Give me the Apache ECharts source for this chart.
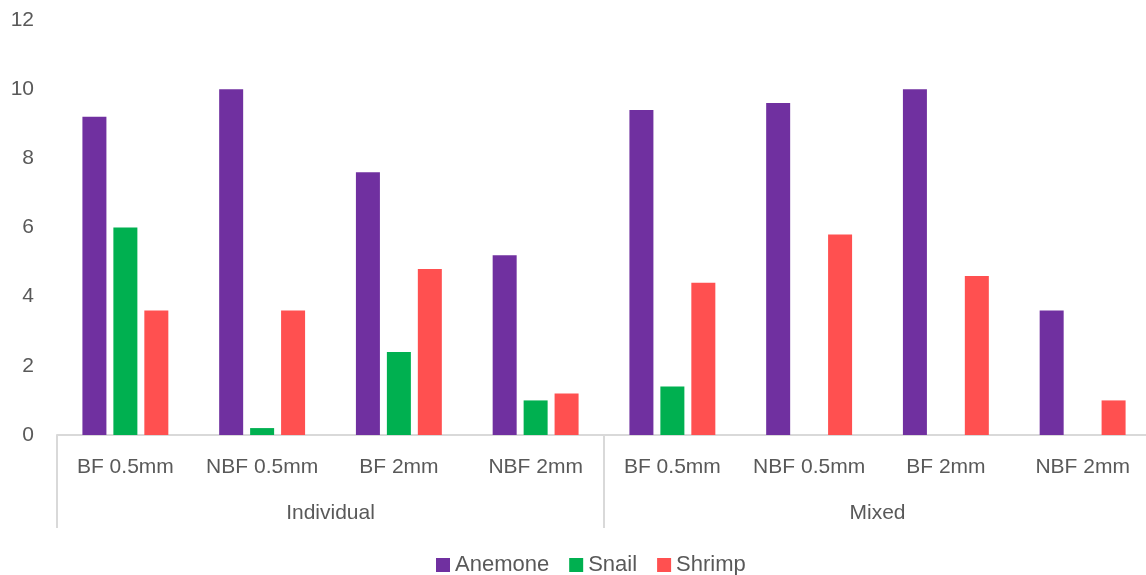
<!DOCTYPE html>
<html><head><meta charset="utf-8">
<script src="https://cdn.jsdelivr.net/npm/echarts@6/dist/echarts.min.js"></script>
<style>html,body{margin:0;padding:0;background:#fff;overflow:hidden}#c{width:1154px;height:575px}</style>
</head><body><div id="c"></div>
<script>
const categories = ["BF 0.5mm","NBF 0.5mm","BF 2mm","NBF 2mm","BF 0.5mm","NBF 0.5mm","BF 2mm","NBF 2mm"];
const groups = ["Individual","Mixed"];
const anemone = [9.2,10,7.6,5.2,9.4,9.6,10,3.6];
const snail = [6.0,0.2,2.4,1.0,1.4,0,0,0];
const shrimp = [3.6,3.6,4.8,1.2,4.4,5.8,4.6,1.0];
const yTicks = [0,2,4,6,8,10,12];

const FONT = "Liberation Sans";
const TXT = "#595959";
const chart = echarts.init(document.getElementById('c'));
chart.setOption({
  animation:false,
  textStyle:{fontFamily:FONT},
  grid:{left:57, top:20, width:1094, height:415, containLabel:false},
  legend:{top:549, left:431, itemWidth:14, itemHeight:14, itemGap:20,
    icon:'rect', textStyle:{color:TXT, fontSize:22, fontFamily:FONT},
    data:['Anemone','Snail','Shrimp']},
  xAxis:[
    {type:'category', data:categories, position:'bottom',
     axisLine:{show:true, lineStyle:{color:'#d9d9d9', width:2}},
     axisTick:{show:false},
     axisLabel:{color:TXT, fontSize:21, fontFamily:FONT, margin:22, interval:0}},
    {type:'category', data:groups, position:'bottom', offset:0,
     axisLine:{show:false},
     axisTick:{show:true, length:93, alignWithLabel:false, lineStyle:{color:'#d9d9d9', width:2}},
     axisLabel:{color:TXT, fontSize:21, fontFamily:FONT, margin:68}}
  ],
  yAxis:{type:'value', min:0, max:12, interval:2,
    axisLine:{show:false}, axisTick:{show:false}, splitLine:{show:false},
    axisLabel:{color:TXT, fontSize:21, fontFamily:FONT, margin:23,
      formatter:v=>yTicks.includes(v)?String(v):''}},
  series:[
    {name:'Anemone', type:'bar', data:anemone, barWidth:24, barGap:'29%', itemStyle:{color:'#7030A0'}},
    {name:'Snail', type:'bar', data:snail, barWidth:24, barGap:'29%', itemStyle:{color:'#00B050'}},
    {name:'Shrimp', type:'bar', data:shrimp, barWidth:24, barGap:'29%', itemStyle:{color:'#FF5050'}}
  ]
});
</script></body></html>
